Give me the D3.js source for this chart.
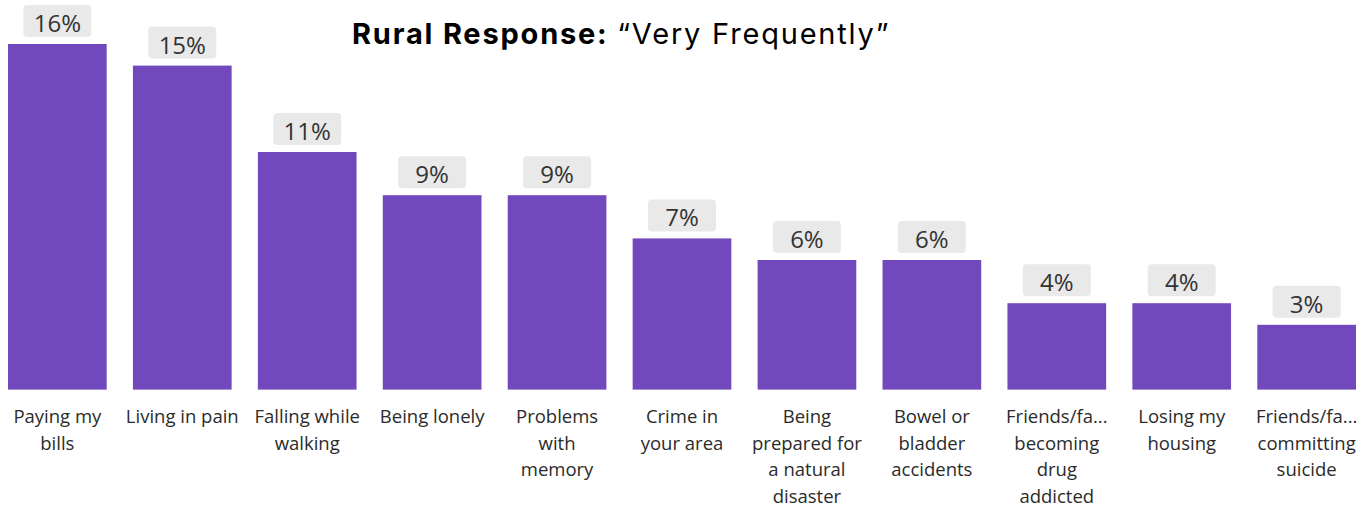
<!DOCTYPE html>
<html>
<head>
<meta charset="utf-8">
<script src="https://cdn.jsdelivr.net/npm/d3@7"></script>
<style>
  body { margin: 0; background: #fff; }
  svg { display: block; }
</style>
</head>
<body>
<div id="chart"></div>
<script>
// data
const categories = ["Paying my bills", "Living in pain", "Falling while walking", "Being lonely",
    "Problems with memory", "Crime in your area", "Being prepared for a natural disaster",
    "Bowel or bladder accidents", "Friends/fa... becoming drug addicted", "Losing my housing",
    "Friends/fa... committing suicide"];
const tickLines = [
    ["Paying my", "bills"],
    ["Living in pain"],
    ["Falling while", "walking"],
    ["Being lonely"],
    ["Problems", "with", "memory"],
    ["Crime in", "your area"],
    ["Being", "prepared for", "a natural", "disaster"],
    ["Bowel or", "bladder", "accidents"],
    ["Friends/fa...", "becoming", "drug", "addicted"],
    ["Losing my", "housing"],
    ["Friends/fa...", "committing", "suicide"]
];
const values = [16, 15, 11, 9, 9, 7, 6, 6, 4, 4, 3];

const width = 1372, height = 508;
const svg = d3.select("#chart").append("svg")
    .attr("width", width)
    .attr("height", height);

// scales
const x = d3.scaleBand()
    .domain(categories)
    .range([8, 1356])
    .paddingInner(0.21)
    .paddingOuter(0);

const y = d3.scaleLinear()
    .domain([0, 16])
    .range([389.6, 44]);

// bars
svg.selectAll("rect.bar")
    .data(values)
    .enter().append("rect")
    .attr("class", "bar")
    .attr("x", (d, i) => x(categories[i]))
    .attr("y", d => y(d))
    .attr("width", x.bandwidth())
    .attr("height", d => y(0) - y(d))
    .attr("fill", "#7249bd");

// value labels with grey boxes
const lab = svg.selectAll("g.vlabel")
    .data(values)
    .enter().append("g")
    .attr("class", "vlabel")
    .attr("transform", (d, i) => `translate(${x(categories[i]) + x.bandwidth() / 2},${y(d) - 7})`);

lab.append("rect")
    .attr("x", -34)
    .attr("y", -32)
    .attr("width", 68)
    .attr("height", 32)
    .attr("rx", 4)
    .attr("fill", "#e9e9e9");

lab.append("text")
    .attr("text-anchor", "middle")
    .attr("y", -5)
    .style("font-family", "'Open Sans', sans-serif")
    .style("font-size", "24px")
    .style("fill", "#333")
    .text(d => d + "%");

// category labels (wrapped)
const cat = svg.selectAll("text.cat")
    .data(categories)
    .enter().append("text")
    .attr("class", "cat")
    .attr("text-anchor", "middle")
    .attr("transform", d => `translate(${x(d) + x.bandwidth() / 2},423)`)
    .style("font-family", "'Open Sans', sans-serif")
    .style("font-size", "18.5px")
    .style("fill", "#2b2b2b");

cat.each(function (d, i) {
    d3.select(this).selectAll("tspan")
        .data(tickLines[i])
        .enter().append("tspan")
        .attr("x", 0)
        .attr("dy", (l, j) => j === 0 ? 0 : 26.7)
        .text(l => l);
});

// title
const title = svg.append("text")
    .attr("x", 352)
    .attr("y", 44)
    .style("font-family", "Inter, sans-serif")
    .style("font-size", "29px")
    .style("letter-spacing", "1.8px")
    .style("fill", "#000");
title.append("tspan").style("font-weight", "bold").text("Rural Response: ");
title.append("tspan").text("\u201cVery Frequently\u201d");
</script>
</body>
</html>
